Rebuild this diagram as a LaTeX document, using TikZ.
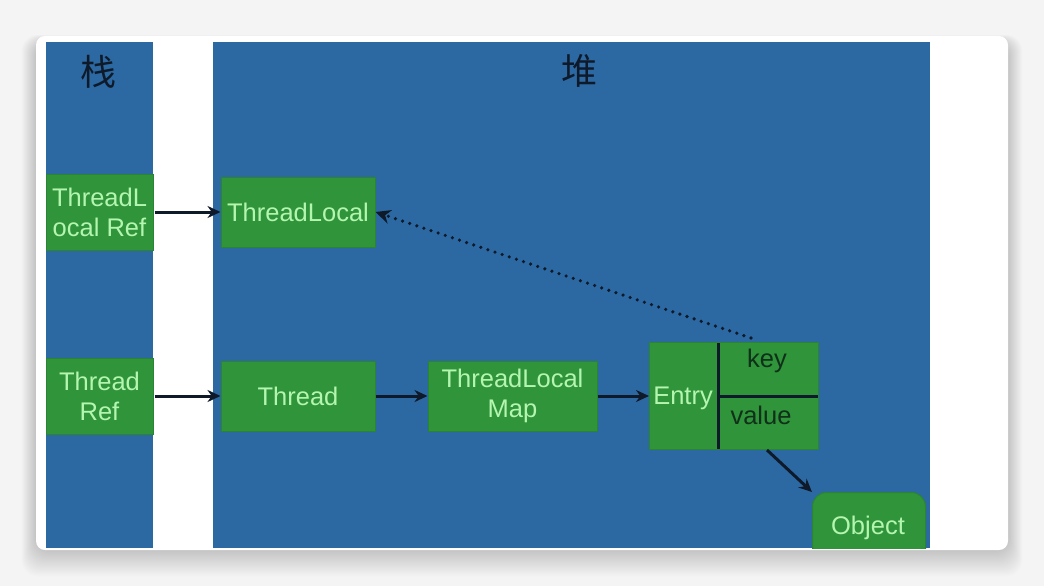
\documentclass[tikz,border=0pt]{standalone}
\usepackage{fontspec}
\setmainfont{Liberation Sans}
\newfontfamily\cjk{Noto Sans CJK SC}
\usetikzlibrary{arrows.meta}
\definecolor{bgc}{HTML}{F4F4F4}
\definecolor{panel}{HTML}{2C69A3}
\definecolor{boxg}{HTML}{2F943A}
\definecolor{boxedge}{HTML}{2A8434}
\definecolor{txtg}{HTML}{B4F5B0}
\definecolor{dark}{HTML}{0E1A2A}
\definecolor{keyc}{HTML}{10301A}
\tikzset{
  gbox/.style={fill=boxg, draw=boxedge, line width=1pt, inner sep=0pt,
    text=txtg, font=\fontsize{25.5}{31}\selectfont, align=center},
  conn/.style={-{Stealth[length=13pt,width=12pt]}, line width=3pt, draw=dark},
  dotconn/.style={-{Stealth[length=15pt,width=14pt]}, line width=3.6pt, draw=dark,
    line cap=round, dash pattern=on 0pt off 7.5pt},
  title/.style={text=dark, font=\cjk\fontsize{36}{40}\selectfont}
}
\begin{document}
\begin{tikzpicture}[x=1pt,y=-1pt]
\useasboundingbox (0,0) rectangle (1044,586);
\fill[bgc] (0,0) rectangle (1044,586);
% card shadow
\foreach \i in {1,...,24}{
  \fill[black,opacity=0.009, rounded corners=16pt] (36-\i*0.6,36-\i*0.3+6) rectangle (1008+\i*0.6,550+\i*1.1);
}
\fill[white, rounded corners=9pt] (36,36) rectangle (1008,550);
% panels
\fill[panel] (46,42) rectangle (153,548);
\fill[panel] (213,42) rectangle (930,548);
\node[title] (zhan) at (98,72) {栈};
\node[title] (dui) at (579,71) {堆};
% nodes
\node[gbox, minimum width=107pt, minimum height=76pt] (tlref) at (99.5,212) {ThreadL\\[-1pt]ocal Ref};
\node[gbox, minimum width=154pt, minimum height=70pt] (tl) at (298,212) {ThreadLocal};
\node[gbox, minimum width=107pt, minimum height=76pt] (tref) at (99.5,396) {Thread\\[-1pt]Ref};
\node[gbox, minimum width=154pt, minimum height=70pt] (thr) at (298,396) {Thread};
\node[gbox, minimum width=169pt, minimum height=70pt] (tlm) at (512.5,396) {ThreadLocal\\[-1pt]Map};
\node[gbox, minimum width=169pt, minimum height=107pt] (entry) at (734,396) {};
\draw[dark, line width=3pt] (718,343) -- (718,449);
\draw[dark, line width=3pt] (718,396) -- (818,396);
\node[text=txtg, font=\fontsize{25.5}{31}\selectfont] (elab) at (683,398) {Entry};
\node[text=keyc, font=\fontsize{25.5}{31}\selectfont] (klab) at (767,361) {key};
\node[text=keyc, font=\fontsize{25.5}{31}\selectfont] (vlab) at (761,415) {value};
\coordinate (vbot) at (767,450);
\begin{scope}
  \clip (213,42) rectangle (930,548);
  \node[gbox, rounded corners=14pt, minimum width=113pt, minimum height=100pt, anchor=north west] (obj) at (812,492) {};
  \node[text=txtg, font=\fontsize{25.5}{31}\selectfont] (olab) at (868,528) {Object};
\end{scope}
% connectors
\draw[conn] (tlref.east) ++(1,0) -- (tl.west);
\draw[conn] (tref.east) ++(1,0) -- (thr.west);
\draw[conn] (thr.east) -- (tlm.west);
\draw[conn] (tlm.east) -- (entry.west);
\draw[conn] (vbot) -- (obj.north west);
\coordinate (dstart) at (751,338);
\draw[dotconn] (dstart) -- (tl.east);
\end{tikzpicture}
\end{document}
